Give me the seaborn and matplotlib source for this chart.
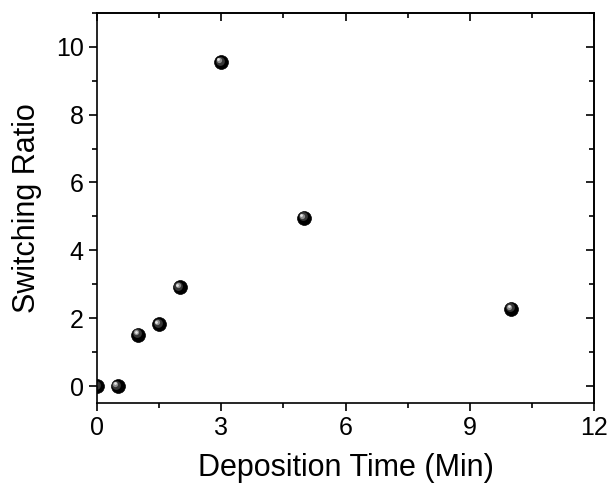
import matplotlib
matplotlib.use("Agg")
import matplotlib.pyplot as plt
import matplotlib.transforms as mtransforms
from matplotlib.ticker import MultipleLocator
import seaborn as sns
import pandas as pd

deposition_time = [0, 0.5, 1, 1.5, 2, 3, 5, 10]
switching_ratio = [0.0, 0.0, 1.52, 1.82, 2.91, 9.55, 4.96, 2.28]

sns.set_style("ticks")
plt.rcParams['font.family'] = ['Liberation Sans', 'DejaVu Sans']
plt.rcParams.update({"text.color": "black", "axes.labelcolor": "black",
                     "xtick.color": "black", "ytick.color": "black",
                     "axes.edgecolor": "black"})

df = pd.DataFrame({"x": deposition_time, "y": switching_ratio})

fig = plt.figure(figsize=(6.1, 4.91), dpi=100)
ax = fig.add_axes([0.159, 0.179, 0.815, 0.795])

sns.scatterplot(data=df, x="x", y="y", ax=ax, s=100, color="black",
                edgecolor="black", linewidth=0.5, zorder=3, clip_on=True)
# sphere highlight layers
for dx, dy, sz, col, a in [(-1.0, 1.0, 40, "#444444", 0.8),
                           (-1.6, 1.6, 14, "#9a9a9a", 0.9),
                           (-2.0, 2.0, 4, "#e8e8e8", 0.95)]:
    off = mtransforms.offset_copy(ax.transData, fig=fig, x=dx, y=dy, units='points')
    ax.scatter(df["x"], df["y"], s=sz, color=col, alpha=a, linewidths=0,
               transform=off, zorder=4, clip_on=True)

ax.set_xlim(0, 12)
ax.set_ylim(-0.5, 11)
ax.xaxis.set_major_locator(MultipleLocator(3))
ax.xaxis.set_minor_locator(MultipleLocator(1.5))
ax.yaxis.set_major_locator(MultipleLocator(2))
ax.yaxis.set_minor_locator(MultipleLocator(1))

for sp in ax.spines.values():
    sp.set_visible(True)
    sp.set_linewidth(1.2)
    sp.set_color("black")
    sp.set_zorder(5)

ax.tick_params(which="both", direction="out", width=1.2, colors="black",
               labelsize=18, top=False, right=False)
ax.tick_params(which="major", length=6)
ax.tick_params(which="minor", length=3.5)

# mirrored inward ticks on top/right
axt = ax.secondary_xaxis('top')
axt.xaxis.set_major_locator(MultipleLocator(3))
axt.xaxis.set_minor_locator(MultipleLocator(1.5))
axt.tick_params(which="both", direction="in", width=1.2, labeltop=False, colors="black")
axt.tick_params(which="major", length=6)
axt.tick_params(which="minor", length=3.5)
axr = ax.secondary_yaxis('right')
axr.yaxis.set_major_locator(MultipleLocator(2))
axr.yaxis.set_minor_locator(MultipleLocator(1))
axr.tick_params(which="both", direction="in", width=1.2, labelright=False, colors="black")
axr.tick_params(which="major", length=6)
axr.tick_params(which="minor", length=3.5)
for a2 in (axt, axr):
    for sp in a2.spines.values():
        sp.set_linewidth(1.2)
        sp.set_color("black")

ax.set_xlabel("Deposition Time (Min)", fontsize=22, labelpad=9, color="black")
ax.set_ylabel("Switching Ratio", fontsize=22, labelpad=10, color="black")

fig.savefig("out.png", dpi=100)
